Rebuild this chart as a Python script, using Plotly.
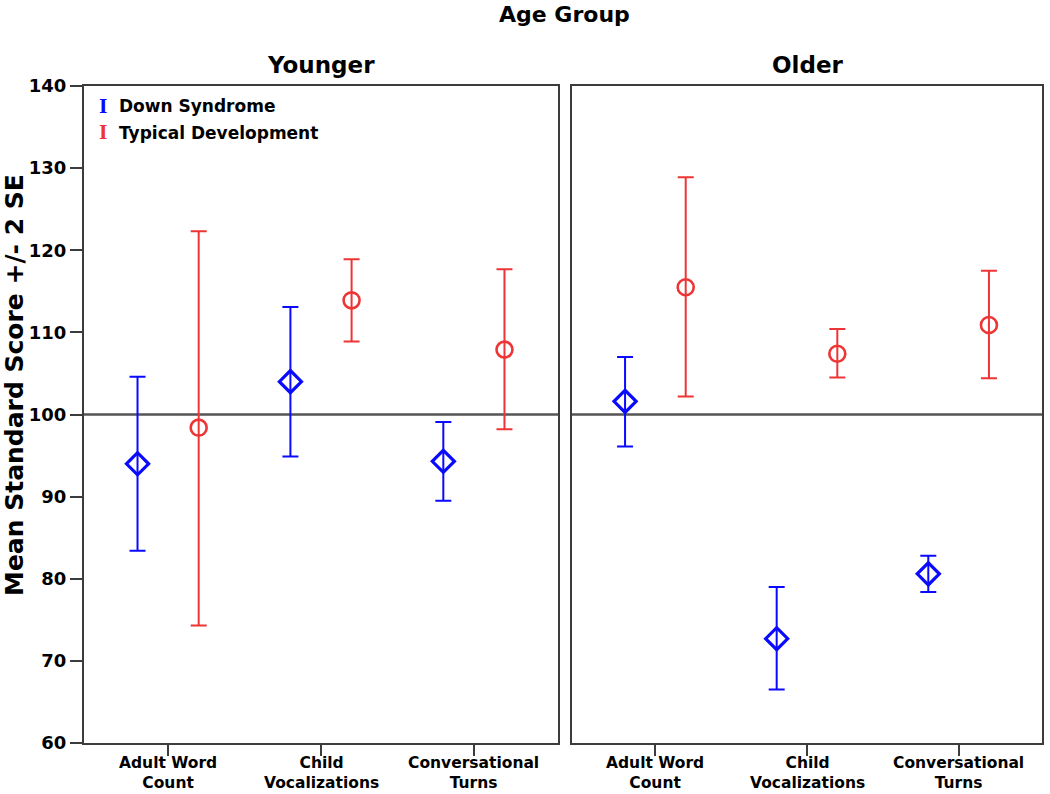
import plotly.graph_objects as go

# ---------------- data ----------------
categories = ["Adult Word Count", "Child Vocalizations", "Conversational Turns"]
category_labels = ["Adult Word<br>Count", "Child<br>Vocalizations", "Conversational<br>Turns"]
panels = ["Younger", "Older"]
series_names = ["Down Syndrome", "Typical Development"]

ds_younger_mean = [94.0, 104.0, 94.3]
ds_younger_upper = [104.6, 113.1, 99.1]
ds_younger_lower = [83.4, 94.9, 89.5]

td_younger_mean = [98.4, 113.9, 107.9]
td_younger_upper = [122.3, 118.9, 117.7]
td_younger_lower = [74.3, 108.9, 98.2]

ds_older_mean = [101.6, 72.7, 80.6]
ds_older_upper = [107.0, 79.0, 82.8]
ds_older_lower = [96.1, 66.5, 78.4]

td_older_mean = [115.5, 107.4, 110.9]
td_older_upper = [128.9, 110.4, 117.5]
td_older_lower = [102.2, 104.5, 104.4]

y_ticks = [60, 70, 80, 90, 100, 110, 120, 130, 140]
reference_value = 100

# ---------------- styling ----------------
FONT = "DejaVu Sans"
BLUE = "#0a0aff"
RED = "#ee3535"
AXIS_COL = "#3c3c3c"

fig = go.Figure()

idx = list(range(len(categories)))
offset = 0.2


def add_series(mean, upper, lower, xaxis, yaxis, color, symbol, size, lw, shift):
    fig.add_trace(go.Scatter(
        x=[i + shift for i in idx],
        y=mean,
        mode="markers",
        xaxis=xaxis, yaxis=yaxis,
        marker=dict(symbol=symbol, size=size, color=color,
                    line=dict(color=color, width=lw)),
        error_y=dict(type="data", symmetric=False,
                     array=[u - m for u, m in zip(upper, mean)],
                     arrayminus=[m - l for m, l in zip(mean, lower)],
                     color=color, thickness=2, width=8),
        showlegend=False,
        cliponaxis=False,
    ))


add_series(ds_younger_mean, ds_younger_upper, ds_younger_lower, "x", "y", BLUE, "diamond-open", 17, 3.2, -offset)
add_series(td_younger_mean, td_younger_upper, td_younger_lower, "x", "y", RED, "circle-open", 16, 2.6, offset)
add_series(ds_older_mean, ds_older_upper, ds_older_lower, "x2", "y2", BLUE, "diamond-open", 17, 3.2, -offset)
add_series(td_older_mean, td_older_upper, td_older_lower, "x2", "y2", RED, "circle-open", 16, 2.6, offset)

W, H = 1050, 794
# plot frame in pixels
left_px, right_px, top_px, bottom_px = 84, 1042, 86, 743
ml, mt = left_px, top_px
mr, mb = W - right_px, H - bottom_px
pw = right_px - left_px
ph = bottom_px - top_px


def px_x(px):
    return (px - left_px) / pw


def px_y(py):
    return 1 - (py - top_px) / ph


xax_common = dict(range=[-0.55, 2.55], tickvals=idx, showticklabels=False,
                  ticks="outside", ticklen=11, tickwidth=2, tickcolor=AXIS_COL,
                  showline=True, linecolor=AXIS_COL, linewidth=2, mirror=True,
                  showgrid=False, zeroline=False, fixedrange=True)
yax_common = dict(range=[60, 140], tickvals=y_ticks, showline=True,
                  linecolor=AXIS_COL, linewidth=2, mirror=True,
                  showgrid=False, zeroline=False, fixedrange=True)

fig.update_layout(
    width=W, height=H,
    margin=dict(l=ml, r=mr, t=mt, b=mb, autoexpand=False),
    paper_bgcolor="white", plot_bgcolor="white",
    xaxis=dict(domain=[0, px_x(558)], anchor="y", **xax_common),
    xaxis2=dict(domain=[px_x(572), 1], anchor="y2", **xax_common),
    yaxis=dict(anchor="x", ticks="outside", ticklen=12, tickwidth=2, tickcolor=AXIS_COL,
               tickfont=dict(family=FONT, size=18, color="black", weight="bold"),
               **yax_common),
    yaxis2=dict(anchor="x2", matches="y", showticklabels=False, ticks="", **yax_common),
    showlegend=False,
)

# reference line at 100 in each panel
for xr, yr in (("x domain", "y"), ("x2 domain", "y2")):
    fig.add_shape(type="line", xref=xr, yref=yr, x0=0, x1=1,
                  y0=reference_value, y1=reference_value,
                  line=dict(color="#555555", width=2.5), layer="below")

annotations = []
bold = dict(family=FONT, color="black", weight="bold")

# overall title
annotations.append(dict(text="Age Group", xref="paper", yref="paper",
                        x=px_x(564), y=px_y(14), showarrow=False,
                        xanchor="center", yanchor="middle",
                        font=dict(size=22, **bold)))
# panel titles
for name, xr in zip(panels, ("x domain", "x2 domain")):
    annotations.append(dict(text=name, xref=xr, yref="paper", x=0.5, y=px_y(65),
                            showarrow=False, xanchor="center", yanchor="middle",
                            font=dict(size=23, **bold)))

# y axis title
annotations.append(dict(text="Mean Standard Score +/- 2 SE", xref="paper", yref="paper",
                        x=px_x(15), y=px_y(385), textangle=-90, showarrow=False,
                        xanchor="center", yanchor="middle",
                        font=dict(size=25, **bold)))

# x category labels (two lines each)
for xr in ("x", "x2"):
    for i, lab in enumerate(category_labels):
        annotations.append(dict(text=lab, xref=xr, yref="paper", x=idx[i], y=px_y(753),
                                showarrow=False, xanchor="center", yanchor="top",
                                borderpad=0, font=dict(size=15.5, **bold)))

# legend (inside left panel)
for name, color, py in zip(series_names, (BLUE, RED), (106, 133)):
    annotations.append(dict(text="I", xref="paper", yref="paper", x=px_x(103), y=px_y(py),
                            showarrow=False, xanchor="center", yanchor="middle",
                            font=dict(family="DejaVu Serif", size=18, color=color, weight="bold")))
    annotations.append(dict(text=name, xref="paper", yref="paper", x=px_x(117), y=px_y(py),
                            showarrow=False, xanchor="left", yanchor="middle",
                            font=dict(size=17, **bold)))

fig.update_layout(annotations=annotations)

fig.write_html("out.html",
               config={"displayModeBar": False},
               post_script="document.body.style.margin='0';document.body.style.overflow='hidden';")
